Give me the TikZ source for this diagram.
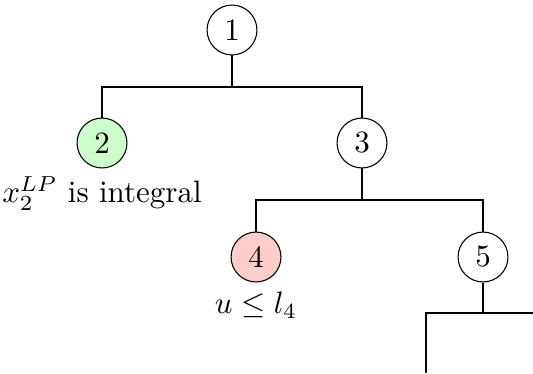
\documentclass[tikz,border=0pt]{standalone}
\usepackage{amsmath}
\begin{document}
\begin{tikzpicture}[x=0.3226pt,y=-0.3226pt,
  tnode/.style={circle,draw,line width=0.35pt,minimum size=16.1pt,inner sep=0pt,font=\normalsize},
  good/.style={tnode,fill=green!20},
  bad/.style={tnode,fill=red!20},
  conn/.style={line width=0.35pt}]
\useasboundingbox (0,0) rectangle (533,373);
\node[tnode] (n1) at (232,30) {1};
\node[good,label={[label distance=-1pt]below:$x_2^{LP}$ is integral}] (n2) at (102,143) {2};
\node[tnode] (n3) at (362,143) {3};
\node[bad,label={[label distance=-0.5pt]below:$u\le l_4$}] (n4) at (256,257) {4};
\node[tnode] (n5) at (483,257) {5};
\coordinate (b1) at (232,87);
\coordinate (b3) at (362,200);
\coordinate (b5) at (483,313);
\coordinate (c6) at (426,373);
\coordinate (c7) at (533,313);
\draw[conn] (n1) -- (b1);
\draw[conn] (n2) -- (n2 |- b1) -- (n3 |- b1) -- (n3);
\draw[conn] (n3) -- (b3);
\draw[conn] (n4) -- (n4 |- b3) -- (n5 |- b3) -- (n5);
\draw[conn] (n5) -- (b5);
\draw[conn] (c6) -- (c6 |- b5) -- (c7);
\end{tikzpicture}
\end{document}
